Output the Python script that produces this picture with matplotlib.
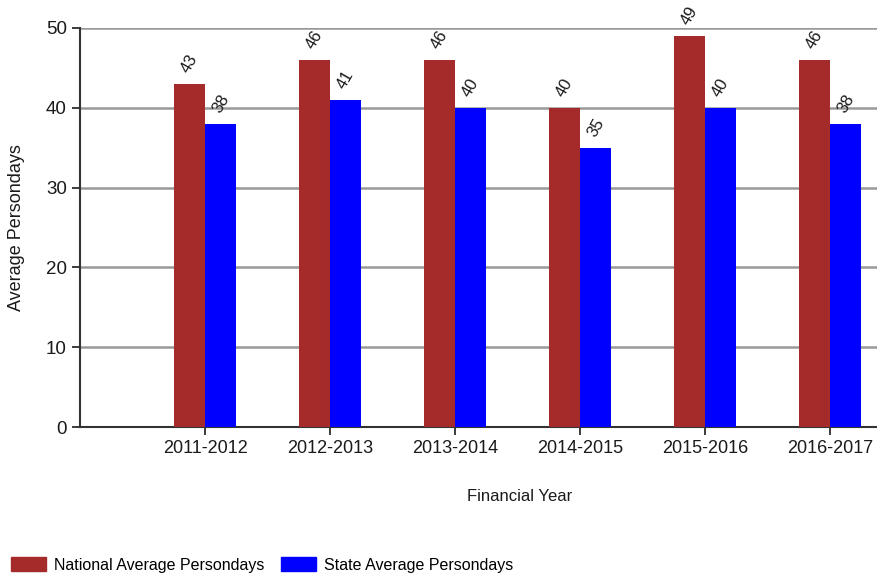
import matplotlib
matplotlib.use("Agg")
import matplotlib.pyplot as plt
import numpy as np
from matplotlib.patches import Patch

plt.rcParams['font.family'] = ['Liberation Sans Narrow', 'Liberation Sans', 'DejaVu Sans']

years = ['2011-2012', '2012-2013', '2013-2014', '2014-2015', '2015-2016', '2016-2017']
national = [43, 46, 46, 40, 49, 46]
state = [38, 41, 40, 35, 40, 38]

fig = plt.figure(figsize=(8.77, 5.77), dpi=100)
ax = fig.add_axes([80/877, 150/577, 1 - 80/877, 399/577])

x = np.arange(len(years))
w = 0.25
ax.bar(x - w/2, national, w, color='#A52A2A', zorder=3)
ax.bar(x + w/2, state, w, color='#0000FF', zorder=3)

# rotated value labels above each bar
for i in range(len(years)):
    ax.text(x[i] - w/2, national[i] + 1.0, str(national[i]), rotation=60,
            ha='center', va='bottom', fontsize=12, color='#1a1a1a', clip_on=False)
    ax.text(x[i] + w/2, state[i] + 1.0, str(state[i]), rotation=60,
            ha='center', va='bottom', fontsize=12, color='#1a1a1a', clip_on=False)

ax.set_xlim(-1, 5.376)
ax.set_ylim(0, 50)
ax.set_yticks([0, 10, 20, 30, 40, 50])
ax.set_xticks(x)
ax.set_xticklabels(years, fontsize=13, color='#1a1a1a')
ax.tick_params(axis='y', labelsize=13.5, colors='#1a1a1a', length=6, width=1.2)
ax.tick_params(axis='x', length=6, width=1.2, colors='#1a1a1a')
ax.yaxis.grid(True, color='#999999', linewidth=1.8, zorder=0)
ax.spines['top'].set_visible(False)
ax.spines['right'].set_visible(False)
ax.spines['left'].set_color('#333333')
ax.spines['bottom'].set_color('#333333')
ax.spines['left'].set_linewidth(1.5)
ax.spines['bottom'].set_linewidth(1.5)

ax.set_xlabel('Financial Year', fontsize=12, color='#1a1a1a')
ax.xaxis.set_label_coords(0.552, -0.155)
ax.set_ylabel('Average Persondays', fontsize=13, color='#1a1a1a')
ax.yaxis.set_label_coords(-0.069, 0.5)

handles = [Patch(color='#A52A2A', label='National Average Persondays'),
           Patch(color='#0000FF', label='State Average Persondays')]
fig.legend(handles=handles, loc='lower left', bbox_to_anchor=(0.0, -0.012), ncol=2,
           frameon=False, fontsize=11.5, handlelength=2.2, handleheight=1.0,
           columnspacing=1.0, handletextpad=0.5, borderaxespad=0.3)

fig.savefig('out.png', dpi=100)
